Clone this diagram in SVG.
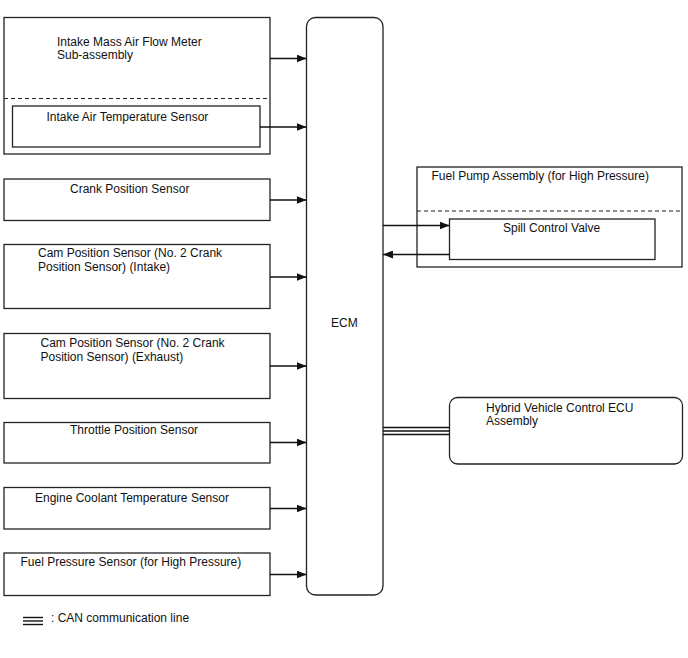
<svg xmlns="http://www.w3.org/2000/svg" width="688" height="658" viewBox="0 0 688 658">
<defs>
<style>
.box{fill:#fff;stroke:#222;stroke-width:1.3}
.dash{fill:none;stroke:#222;stroke-width:1.2;stroke-dasharray:4,3}
.ln{fill:none;stroke:#111;stroke-width:1.3}
.can{fill:none;stroke:#111;stroke-width:1.4}
text{font-family:"Liberation Sans",Arial,sans-serif;font-size:12px;fill:#111}
</style>
<marker id="ah" viewBox="0 0 10 8" refX="10" refY="4" markerWidth="10" markerHeight="8" markerUnits="userSpaceOnUse" orient="auto">
<path d="M0,0 L10,4 L0,8 z" fill="#111"/>
</marker>
</defs>
<rect width="688" height="658" fill="#fff"/>
<g id="maf">
<rect class="box" x="4" y="17.5" width="266" height="136.5"/>
<line class="dash" x1="4" y1="98.5" x2="270" y2="98.5"/>
<text x="57" y="46">Intake Mass Air Flow Meter</text>
<text x="57" y="59">Sub-assembly</text>
</g>
<g id="iat">
<rect class="box" x="12.5" y="106" width="247.5" height="41"/>
<text x="46.5" y="120.5">Intake Air Temperature Sensor</text>
</g>
<g id="crank">
<rect class="box" x="4" y="179" width="266" height="41.5"/>
<text x="70" y="193">Crank Position Sensor</text>
</g>
<g id="cam-intake">
<rect class="box" x="4" y="244.5" width="266" height="64"/>
<text x="38" y="256.5">Cam Position Sensor (No. 2 Crank</text>
<text x="38" y="270.5">Position Sensor) (Intake)</text>
</g>
<g id="cam-exhaust">
<rect class="box" x="4" y="333.5" width="266" height="65"/>
<text x="40.5" y="346.5">Cam Position Sensor (No. 2 Crank</text>
<text x="40.5" y="360.5">Position Sensor) (Exhaust)</text>
</g>
<g id="throttle">
<rect class="box" x="4" y="422.5" width="266" height="40.5"/>
<text x="70" y="434">Throttle Position Sensor</text>
</g>
<g id="ect">
<rect class="box" x="4" y="487.5" width="266" height="41.5"/>
<text x="35" y="501.5">Engine Coolant Temperature Sensor</text>
</g>
<g id="fps">
<rect class="box" x="4" y="553" width="266" height="42.5"/>
<text x="20.5" y="565.5">Fuel Pressure Sensor (for High Pressure)</text>
</g>
<g id="ecm">
<rect class="box" x="306.5" y="17.5" width="76.5" height="577.5" rx="9" ry="9"/>
<text x="331" y="327">ECM</text>
</g>
<g id="fuel-pump">
<rect class="box" x="417" y="167" width="265" height="100"/>
<line class="dash" x1="417" y1="211" x2="682" y2="211"/>
<text x="431.5" y="180">Fuel Pump Assembly (for High Pressure)</text>
</g>
<g id="scv">
<rect class="box" x="449.5" y="219" width="205.5" height="40.5"/>
<text x="503" y="231.5">Spill Control Valve</text>
</g>
<g id="hv-ecu">
<rect class="box" x="449.5" y="397.5" width="233" height="66.5" rx="8" ry="8"/>
<text x="486" y="411.5">Hybrid Vehicle Control ECU</text>
<text x="486" y="425">Assembly</text>
</g>
<g id="connectors">
<line class="ln" x1="270" y1="58.5" x2="306.5" y2="58.5" marker-end="url(#ah)"/>
<line class="ln" x1="260" y1="127" x2="306.5" y2="127" marker-end="url(#ah)"/>
<line class="ln" x1="270" y1="200" x2="306.5" y2="200" marker-end="url(#ah)"/>
<line class="ln" x1="270" y1="277" x2="306.5" y2="277" marker-end="url(#ah)"/>
<line class="ln" x1="270" y1="366" x2="306.5" y2="366" marker-end="url(#ah)"/>
<line class="ln" x1="270" y1="442.5" x2="306.5" y2="442.5" marker-end="url(#ah)"/>
<line class="ln" x1="270" y1="508.5" x2="306.5" y2="508.5" marker-end="url(#ah)"/>
<line class="ln" x1="270" y1="574.5" x2="306.5" y2="574.5" marker-end="url(#ah)"/>
<line class="ln" x1="383" y1="225.5" x2="449.5" y2="225.5" marker-end="url(#ah)"/>
<line class="ln" x1="449.5" y1="254.5" x2="383" y2="254.5" marker-end="url(#ah)"/>
<line class="can" x1="383" y1="427.5" x2="449.5" y2="427.5"/>
<line class="can" x1="383" y1="431" x2="449.5" y2="431"/>
<line class="can" x1="383" y1="434.5" x2="449.5" y2="434.5"/>
</g>
<g id="legend">
<line class="can" x1="23" y1="617.5" x2="43" y2="617.5"/>
<line class="can" x1="23" y1="621" x2="43" y2="621"/>
<line class="can" x1="23" y1="624.5" x2="43" y2="624.5"/>
<text x="51" y="622">: CAN communication line</text>
</g>
</svg>
